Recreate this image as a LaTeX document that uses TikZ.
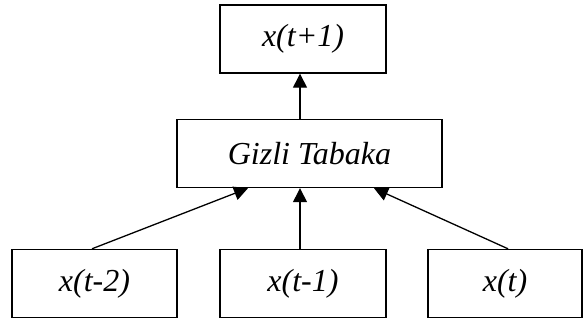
\documentclass[tikz,border=0pt]{standalone}
\usepackage{fontspec}
\setmainfont{Liberation Serif}
\usetikzlibrary{arrows.meta}
\begin{document}
\begin{tikzpicture}[x=1pt,y=1pt,
  box/.style={draw, line width=1.4pt, rectangle, inner sep=0pt, minimum height=68pt, font=\fontsize{32}{34}\selectfont\itshape},
  arr/.style={line width=1.3pt, -{Triangle[length=14pt,width=14pt]}}]
\useasboundingbox (0,0) rectangle (583,320);
\node[box, minimum width=166pt] (top) at (303,281) {x(t+1)};
\node[box, minimum width=265pt] (mid) at (309.5,166.5) {Gizli Tabaka};
\node[box, minimum width=165pt] (bl) at (94.5,36.5) {x(t-2)};
\node[box, minimum width=166pt] (bm) at (303,36.5) {x(t-1)};
\node[box, minimum width=154pt] (br) at (505,36.5) {x(t)};
\draw[arr] ([xshift=-9.5pt]mid.north) -- ([xshift=-3pt]top.south);
\draw[arr] ([xshift=-2.5pt]bl.north) -- ([xshift=-61.5pt]mid.south);
\draw[arr] ([xshift=-3pt]bm.north) -- ([xshift=-9.5pt]mid.south);
\draw[arr] ([xshift=3pt]br.north) -- ([xshift=64.5pt]mid.south);
\end{tikzpicture}
\end{document}
